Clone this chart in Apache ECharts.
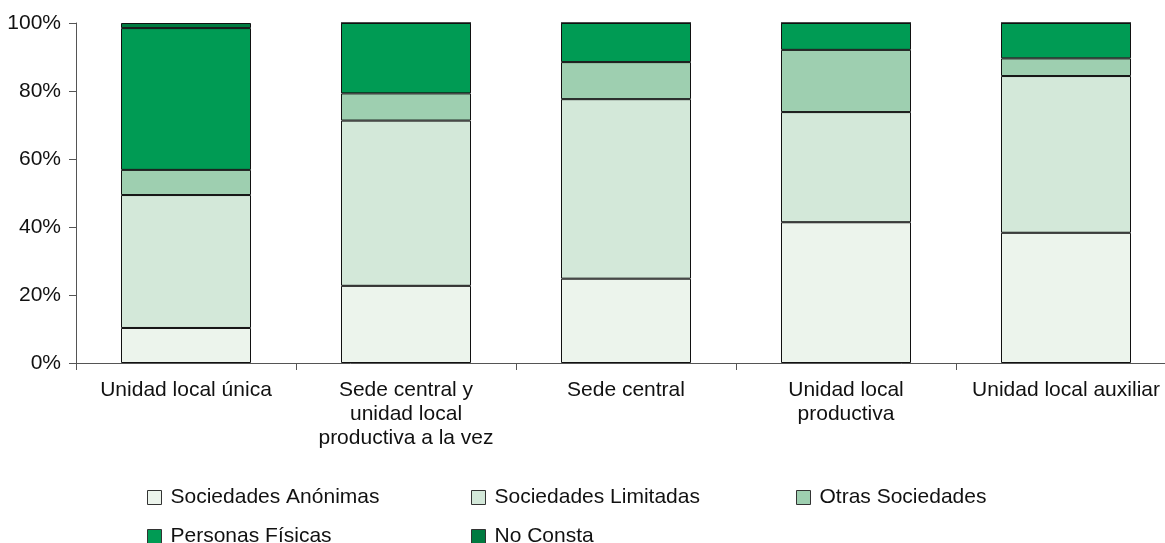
<!DOCTYPE html>
<html>
<head>
<meta charset="utf-8">
<script src="https://cdn.jsdelivr.net/npm/echarts@6/dist/echarts.min.js"></script>
<style>
  html, body { margin: 0; padding: 0; background: #fff; overflow: hidden; }
  /* the plot area runs a little past the right edge in the original */
  #chart { width: 1176px; height: 543px; }
</style>
</head>
<body>
<div id="chart"></div>
<script>
// categories on the x axis
var categories = ['Unidad local única', 'Sede central y\nunidad local\nproductiva a la vez', 'Sede central', 'Unidad local\nproductiva', 'Unidad local auxiliar'];

// percentages
var anonimas   = [10.3, 22.7, 24.8, 41.4, 38.3];
var limitadas  = [39.1, 48.6, 52.8, 32.4, 46.1];
var otras      = [7.4, 8.0, 10.9, 18.3, 5.2];
var fisicas    = [41.7, 20.7, 11.5, 7.9, 10.4];
var noConsta   = [1.5, 0, 0, 0, 0];

var yTicks = [0, 20, 40, 60, 80, 100];

var names  = ['Sociedades Anónimas', 'Sociedades Limitadas', 'Otras Sociedades', 'Personas Físicas', 'No Consta'];
var colors = ['#ecf4ec', '#d3e8d9', '#9ecfb0', '#009b54', '#007a40'];
var values = [anonimas, limitadas, otras, fisicas, noConsta];

var font = 'Liberation Sans, Arial, sans-serif';

var series = names.map(function (n, i) {
    return {
        name: n,
        type: 'bar',
        stack: 'total',
        barWidth: 130,
        data: values[i],
        itemStyle: { color: colors[i], borderColor: '#111', borderWidth: 1 }
    };
});

// one legend per item so they sit in a fixed grid like the original
var legendPos = [[147, 487], [471, 487], [796, 487], [147, 526], [471, 526]];
var legends = names.map(function (n, i) {
    return {
        data: [n],
        left: legendPos[i][0],
        top: legendPos[i][1],
        icon: 'rect',
        itemWidth: 14,
        itemHeight: 14,
        itemGap: 0,
        padding: 0,
        selectedMode: false,
        itemStyle: { borderColor: '#333', borderWidth: 1 },
        textStyle: { fontFamily: font, fontSize: 21, color: '#111', lineHeight: 14, padding: [0, 0, 0, 4] }
    };
});

var chart = echarts.init(document.getElementById('chart'));
chart.setOption({
    animation: false,
    grid: { left: 76, top: 23, right: 0, bottom: 180 },
    legend: legends,
    xAxis: {
        type: 'category',
        data: categories,
        axisLine: { lineStyle: { color: '#555', width: 1 } },
        axisTick: { show: true, length: 7, lineStyle: { color: '#555' } },
        axisLabel: {
            fontFamily: font, fontSize: 21, color: '#111',
            lineHeight: 24, margin: 15, interval: 0
        }
    },
    yAxis: {
        type: 'value',
        min: yTicks[0],
        max: yTicks[yTicks.length - 1],
        interval: 20,
        splitLine: { show: false },
        axisLine: { show: true, lineStyle: { color: '#555', width: 1 } },
        axisTick: { show: true, length: 7, lineStyle: { color: '#555' } },
        axisLabel: {
            fontFamily: font, fontSize: 21, color: '#111', margin: 15,
            formatter: '{value}%'
        }
    },
    series: series
});
</script>
</body>
</html>
